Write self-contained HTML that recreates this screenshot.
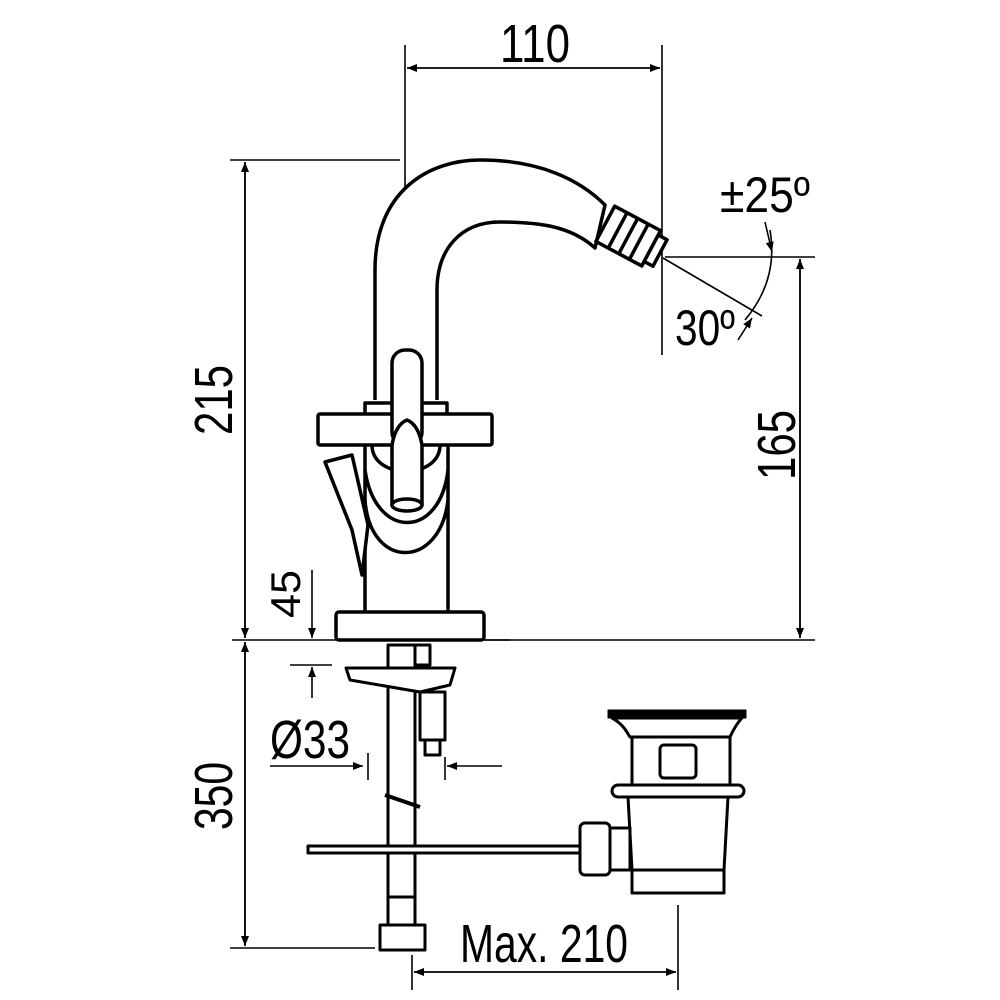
<!DOCTYPE html>
<html><head><meta charset="utf-8"><style>
html,body{margin:0;padding:0;background:#fff}
svg{display:block}
text{font-family:"Liberation Sans Narrow","Liberation Sans",sans-serif;fill:#000}
</style></head><body>
<svg width="1000" height="1000" viewBox="0 0 1000 1000" xmlns="http://www.w3.org/2000/svg">
<defs>
<marker id="a" viewBox="0 0 10 10" refX="10" refY="5" markerWidth="10" markerHeight="10" markerUnits="userSpaceOnUse" orient="auto"><path d="M0,1 L10,5 L0,9 z" fill="#000"/></marker>
</defs>
<g stroke="#000" fill="none" stroke-width="1.6">
<line x1="405" y1="45" x2="405" y2="205"/>
<line x1="662" y1="45" x2="662" y2="355"/>
<line x1="407" y1="68" x2="660" y2="68" marker-end="url(#a)"/>
<line x1="660" y1="68" x2="407" y2="68" marker-end="url(#a)"/>
<line x1="230" y1="160" x2="400" y2="160"/>
<line x1="245" y1="162" x2="245" y2="638" marker-end="url(#a)"/>
<line x1="245" y1="638" x2="245" y2="162" marker-end="url(#a)"/>
<line x1="232" y1="640" x2="510" y2="640"/>
<line x1="665" y1="257" x2="815" y2="257"/>
<line x1="485" y1="640" x2="815" y2="640"/>
<line x1="800" y1="259" x2="800" y2="638" marker-end="url(#a)"/>
<line x1="800" y1="638" x2="800" y2="259" marker-end="url(#a)"/>
<line x1="663" y1="258" x2="762" y2="316"/>
<path d="M770,230 C775,260 770,290 745,320"/>
<line x1="765" y1="222" x2="772" y2="252" marker-end="url(#a)"/>
<line x1="738" y1="340" x2="752" y2="318" marker-end="url(#a)"/>
<line x1="312" y1="570" x2="312" y2="638" marker-end="url(#a)"/>
<line x1="245" y1="642" x2="245" y2="946" marker-end="url(#a)"/>
<line x1="245" y1="946" x2="245" y2="642" marker-end="url(#a)"/>
<line x1="230" y1="948" x2="375" y2="948"/>
<line x1="290" y1="665" x2="332" y2="665"/>
<line x1="312" y1="698" x2="312" y2="667" marker-end="url(#a)"/>
<line x1="270" y1="766" x2="363" y2="766" marker-end="url(#a)"/>
<line x1="368" y1="753" x2="368" y2="780"/>
<line x1="502" y1="766" x2="447" y2="766" marker-end="url(#a)"/>
<line x1="445" y1="757" x2="445" y2="780"/>
<line x1="412" y1="955" x2="412" y2="990"/>
<line x1="678" y1="905" x2="678" y2="990"/>
<line x1="414" y1="972" x2="676" y2="972" marker-end="url(#a)"/>
<line x1="676" y1="972" x2="414" y2="972" marker-end="url(#a)"/>
</g>
<g stroke="#000" fill="#fff" stroke-width="3.5" stroke-linejoin="round">
<path d="M375,400 L375,270 C375,190 430,160 480,160 C540,160 580,180 605,205 L595,248 C570,225 535,222 500,222 C460,222 437,250 437,290 L437,400" />
<g transform="rotate(28 630 237)">
<rect x="602" y="217" width="52" height="40"/>
<line x1="616" y1="217" x2="616" y2="257"/>
<line x1="628" y1="217" x2="628" y2="257"/>
<line x1="640" y1="217" x2="640" y2="257"/>
<rect x="654" y="222" width="10" height="30"/>
</g>
<rect x="365" y="444" width="83" height="170"/>
<path d="M365,500 C370,570 440,570 448,500" fill="none"/>
<path d="M365,470 C375,540 440,540 448,470" fill="none"/>
<path d="M372,445 C372,480 440,480 440,445" fill="none"/>
<path d="M325,462 L352,455 L368,525 L362,575 L352,530 Z"/>
<rect x="336" y="612" width="148" height="28" rx="3"/>
<rect x="365" y="403" width="82" height="12"/>
<rect x="318" y="414" width="174" height="31" rx="2"/>
<rect x="392" y="350" width="30" height="95" rx="13"/>
<path d="M392,505 L392,445 C395,428 402,422 407,420 C412,422 419,428 422,445 L422,505 Z"/>
<ellipse cx="407" cy="505" rx="15" ry="6"/>
<rect x="388" y="645" width="27" height="280" stroke-width="3"/>
<rect x="415" y="645" width="15" height="20" stroke-width="3"/>
<path d="M346,668 L455,668 L450,685 L420,692 L350,680 Z" stroke-width="3"/>
<rect x="420" y="692" width="25" height="48" stroke-width="3"/>
<rect x="425" y="740" width="15" height="15" stroke-width="3"/>
<line x1="385" y1="795" x2="420" y2="807" stroke-width="4"/>
<rect x="308" y="846" width="272" height="7" stroke-width="3"/>
<rect x="388" y="897" width="27" height="30" stroke-width="3"/>
<rect x="380" y="925" width="45" height="25" stroke-width="3"/>
<rect x="608" y="710" width="138" height="8" fill="#000" stroke-width="1"/>
<path d="M612,718 C625,725 628,735 630,737 L730,737 C733,730 738,722 742,718 Z" stroke-width="3"/>
<rect x="632" y="737" width="98" height="48" stroke-width="3"/>
<rect x="660" y="745" width="36" height="33" rx="4" stroke-width="3"/>
<rect x="612" y="785" width="132" height="12" rx="6" stroke-width="3"/>
<path d="M628,797 L728,797 L724,870 L632,870 Z" stroke-width="3"/>
<rect x="632" y="870" width="92" height="23" stroke-width="3"/>
<rect x="580" y="823" width="30" height="52" rx="5" stroke-width="3"/>
<rect x="610" y="828" width="20" height="42" stroke-width="3"/>
</g>
<g font-size="54">
<text x="500" y="62" textLength="70" lengthAdjust="spacingAndGlyphs">110</text>
<text transform="translate(232,435) rotate(-90)" textLength="70" lengthAdjust="spacingAndGlyphs">215</text>
<text transform="translate(795,480) rotate(-90)" textLength="70" lengthAdjust="spacingAndGlyphs">165</text>
<text transform="translate(232,830) rotate(-90)" textLength="68" lengthAdjust="spacingAndGlyphs">350</text>
<text x="460" y="962" textLength="168" lengthAdjust="spacingAndGlyphs">Max. 210</text>
<text x="270" y="758" textLength="80" lengthAdjust="spacingAndGlyphs">Ø33</text>
<text x="675" y="345" font-size="50" textLength="60" lengthAdjust="spacingAndGlyphs">30º</text>
<text x="720" y="212" font-size="50" textLength="90" lengthAdjust="spacingAndGlyphs">±25º</text>
</g>
<text transform="translate(300,618) rotate(-90)" font-size="42" textLength="48" lengthAdjust="spacingAndGlyphs">45</text>
</svg>
</body></html>
